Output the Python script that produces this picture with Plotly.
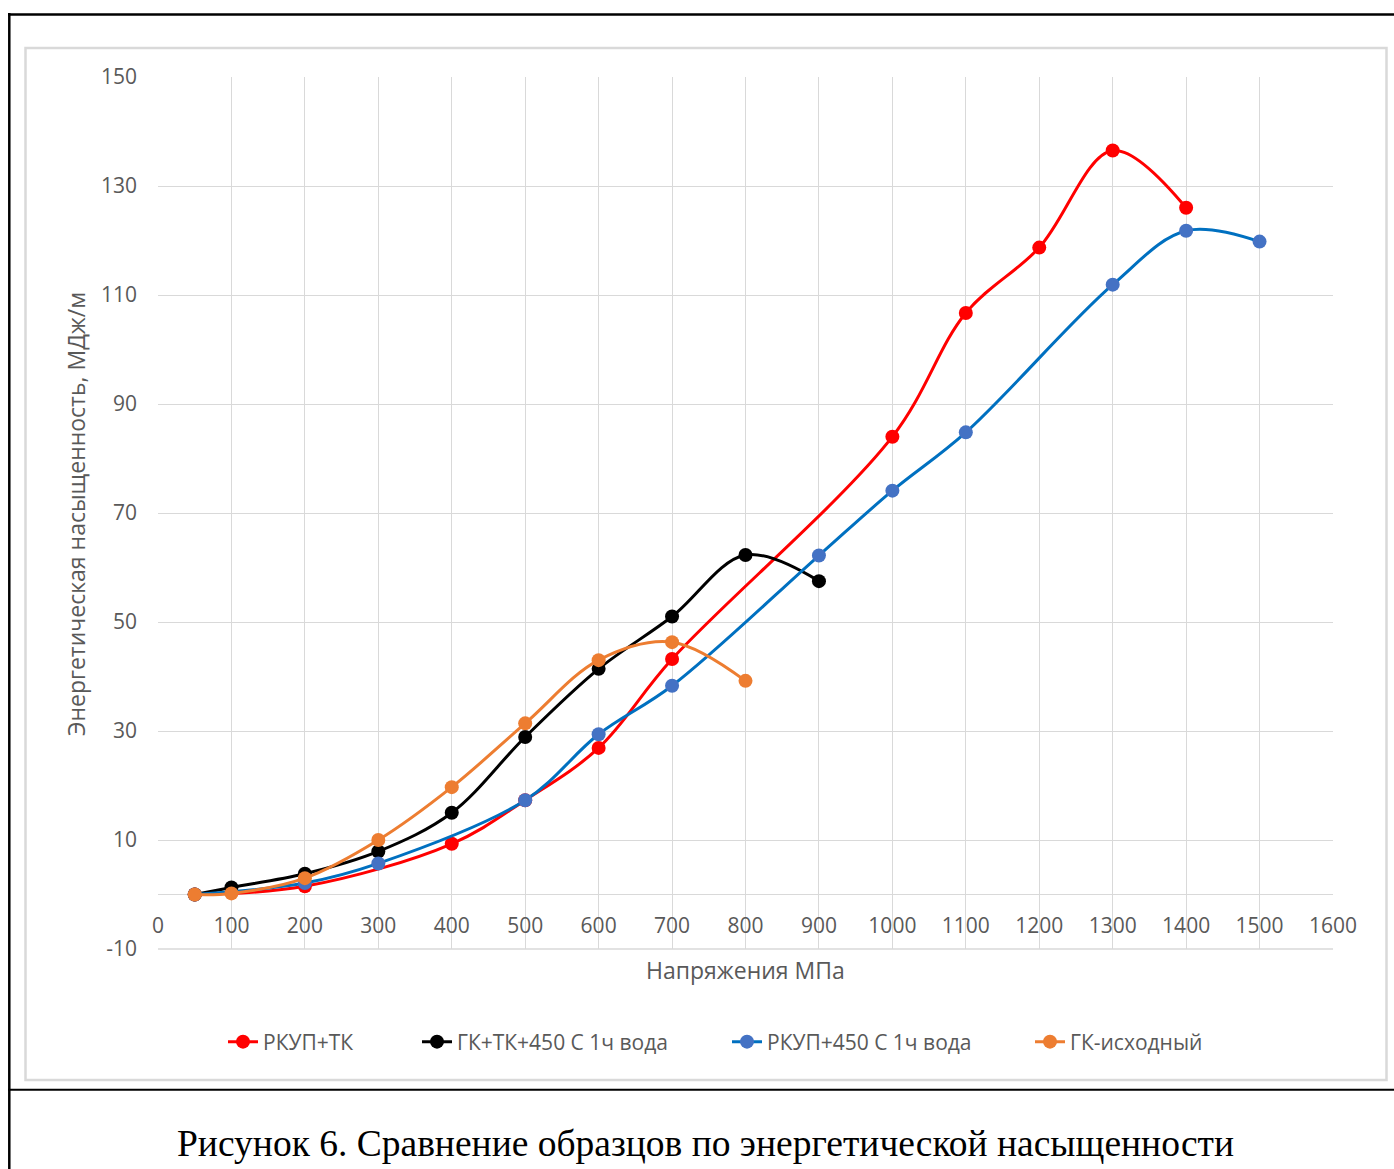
import plotly.graph_objects as go

# ---- data ----
red_name = "РКУП+ТК"
red_x = [50, 200, 400, 500, 600, 700, 1000, 1100, 1200, 1300, 1400]
red_y = [0, 1.5, 9.3, 17.3, 26.9, 43.2, 84.0, 106.7, 118.7, 136.5, 126.0]

black_name = "ГК+ТК+450 С 1ч вода"
black_x = [50, 100, 200, 300, 400, 500, 600, 700, 800, 900]
black_y = [0, 1.3, 3.8, 7.9, 15.0, 28.9, 41.4, 51.0, 62.3, 57.5]

blue_name = "РКУП+450 С 1ч вода"
blue_x = [50, 200, 300, 500, 600, 700, 900, 1000, 1100, 1300, 1400, 1500]
blue_y = [0, 2.1, 5.7, 17.3, 29.4, 38.3, 62.2, 74.1, 84.8, 111.9, 121.8, 119.8]

orange_name = "ГК-исходный"
orange_x = [50, 100, 200, 300, 400, 500, 600, 700, 800]
orange_y = [0, 0.2, 3.0, 10.0, 19.7, 31.4, 43.0, 46.3, 39.2]

x_ticks = list(range(0, 1700, 100))
y_ticks = list(range(-10, 170, 20))

x_title = "Напряжения МПа"
y_title = "Энергетическая насыщенность, МДж/м"
caption = "Рисунок 6. Сравнение образцов по энергетической насыщенности"

# ---- layout geometry (pixels) ----
W, H = 1394, 1169
L, R, T, B = 158, 1333, 77, 949
pw, ph = R - L, B - T


def px(x):
    return (x - L) / pw


def py(y):
    return (B - y) / ph


FONT = "Open Sans"
GREY = "#595959"
GRID = "#d9d9d9"

fig = go.Figure()

series = [
    (red_name, red_x, red_y, "#ff0000", "#ff0000", "legend", 239),
    (black_name, black_x, black_y, "#000000", "#000000", "legend2", 433),
    (blue_name, blue_x, blue_y, "#0070c0", "#4472c4", "legend3", 743),
    (orange_name, orange_x, orange_y, "#ed7d31", "#ed7d31", "legend4", 1046),
]
legend_defs = {}
for name, xs, ys, lc, mc, lg, mx in series:
    fig.add_trace(go.Scatter(
        x=xs, y=ys, name=name, mode="lines+markers", legend=lg,
        line=dict(color=lc, width=3, shape="spline", smoothing=1.0),
        marker=dict(color=mc, size=14),
    ))
    legend_defs[lg] = dict(
        orientation="h", x=px(mx - 16), xanchor="left", y=py(1042), yanchor="middle",
        font=dict(family=FONT, size=21, color=GREY), bgcolor="rgba(0,0,0,0)",
    )

fig.update_layout(
    width=W, height=H,
    margin=dict(l=L, r=W - R, t=T, b=H - B),
    paper_bgcolor="white", plot_bgcolor="white",
    font=dict(family=FONT, size=21, color=GREY),
    showlegend=True,
    xaxis=dict(
        range=[0, 1600], tickvals=x_ticks, ticktext=[str(v) for v in x_ticks],
        showgrid=True, gridcolor=GRID, gridwidth=1.3,
        zeroline=False, showline=False, ticks="",
        anchor="free", position=10 / 160, ticklabelstandoff=16,
        tickfont=dict(family=FONT, size=21, color=GREY),
    ),
    yaxis=dict(
        range=[-10, 150], tickvals=y_ticks, ticktext=[str(v) for v in y_ticks],
        showgrid=True, gridcolor=GRID, gridwidth=1.3,
        zeroline=True, zerolinecolor=GRID, zerolinewidth=1.3,
        showline=False, ticks="", ticklabelstandoff=20,
        tickfont=dict(family=FONT, size=21, color=GREY),
    ),
    **legend_defs,
)

shapes = [
    # chart area grey frame
    dict(type="rect", xref="paper", yref="paper",
         x0=px(25.5), x1=px(1386.5), y0=py(1080), y1=py(48),
         line=dict(color="#d9d9d9", width=2.5), layer="below"),
    # outer black frame
    dict(type="line", xref="paper", yref="paper",
         x0=px(8), x1=px(1400), y0=py(14.5), y1=py(14.5),
         line=dict(color="black", width=2.5)),
    dict(type="line", xref="paper", yref="paper",
         x0=px(9.3), x1=px(9.3), y0=py(13), y1=py(1175),
         line=dict(color="black", width=2.5)),
    dict(type="line", xref="paper", yref="paper",
         x0=px(8), x1=px(1400), y0=py(1089.7), y1=py(1089.7),
         line=dict(color="black", width=2)),
    dict(type="line", xref="paper", yref="paper",
         x0=0, x1=1, y0=0, y1=0, line=dict(color=GRID, width=1.3), layer="below"),
]
fig.update_layout(shapes=shapes)

annotations = [
    dict(text=x_title, x=px(745), y=py(970), xref="paper", yref="paper",
         showarrow=False, xanchor="center", yanchor="middle",
         font=dict(family=FONT, size=23, color=GREY)),
    dict(text=y_title, x=px(76), y=py(514), xref="paper", yref="paper",
         showarrow=False, xanchor="center", yanchor="middle", textangle=-90,
         font=dict(family=FONT, size=23, color=GREY)),
    dict(text=caption, x=px(705.5), y=py(1143), xref="paper", yref="paper",
         showarrow=False, xanchor="center", yanchor="middle",
         font=dict(family="Liberation Serif", size=37.5, color="black")),
]
fig.update_layout(annotations=annotations)

fig.write_html("out.html", config={"displayModeBar": False},
               post_script="document.body.style.margin='0';")
